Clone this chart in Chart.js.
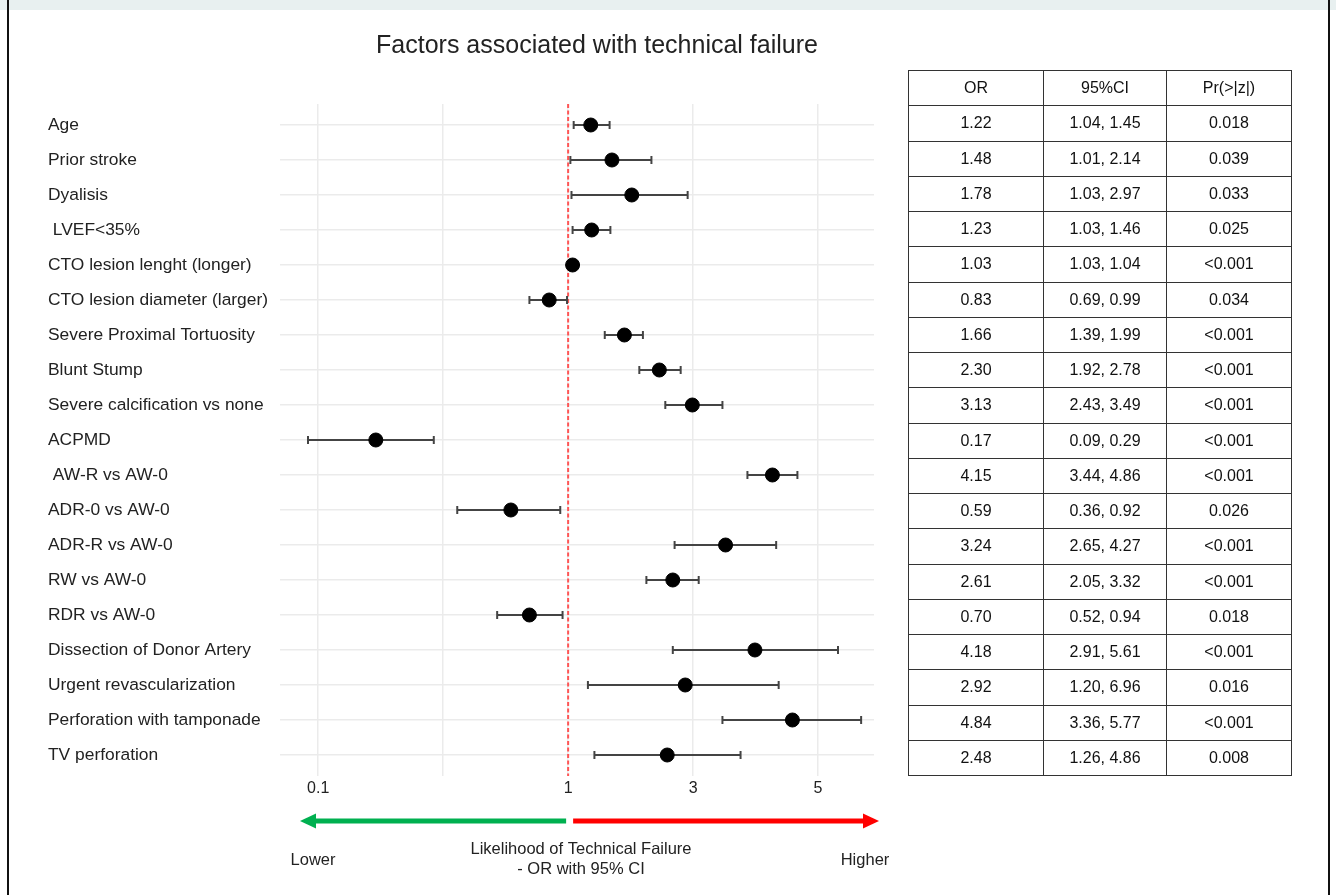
<!DOCTYPE html>
<html>
<head>
<meta charset="utf-8">
<script src="https://cdn.jsdelivr.net/npm/chart.js@4.4.1/dist/chart.umd.min.js"></script>
<style>
  body { margin: 0; background: #fff; }
  #wrap { position: relative; width: 1336px; height: 895px; overflow: hidden; }
  #band { position: absolute; left: 0; top: 0; width: 1336px; height: 10px; background: #e8f0f0; }
  .frame { position: absolute; top: 0; width: 2px; height: 895px; background: #111; }
  #forest { position: absolute; left: 0; top: 0; }
  #stats {
    position: absolute; left: 908px; top: 70px; width: 383px;
    border-collapse: collapse; table-layout: fixed;
    font-family: "Liberation Sans", Arial, sans-serif; font-size: 16px; color: #111;
    text-align: center;
  }
  #stats td { border: 1px solid #333; padding: 0; }
  #stats tr { height: 35.25px; }
</style>
</head>
<body>
<div id="wrap">
  <div id="band"></div>
  <div class="frame" style="left:7px"></div>
  <div class="frame" style="left:1328px"></div>
  <canvas id="forest" width="1336" height="895"></canvas>
  <table id="stats">
    <colgroup><col style="width:135px"><col style="width:123px"><col style="width:125px"></colgroup>
    <tbody id="statsBody"></tbody>
  </table>
</div>
<script>
const factors = [
  "Age", "Prior stroke", "Dyalisis", " LVEF<35%", "CTO lesion lenght (longer)",
  "CTO lesion diameter (larger)", "Severe Proximal Tortuosity", "Blunt Stump",
  "Severe calcification vs none", "ACPMD", " AW-R vs AW-0", "ADR-0 vs AW-0",
  "ADR-R vs AW-0", "RW vs AW-0", "RDR vs AW-0", "Dissection of Donor Artery",
  "Urgent revascularization", "Perforation with tamponade", "TV perforation"
];

// plotted odds ratios and CI ends
const plotOR = [1.22, 1.47, 1.75, 1.23, 1.04, 0.84, 1.64, 2.23, 2.98, 0.17,
  4.27, 0.59, 3.52, 2.51, 0.70, 3.99, 2.80, 4.59, 2.39];
const plotLow = [1.05, 1.02, 1.03, 1.04, 1.02, 0.70, 1.38, 1.87, 2.35, 0.091,
  3.87, 0.36, 2.55, 1.99, 0.52, 2.51, 1.19, 3.47, 1.26];
const plotHigh = [1.44, 2.08, 2.86, 1.45, 1.06, 0.99, 1.93, 2.69, 3.47, 0.29,
  4.67, 0.93, 4.33, 3.09, 0.95, 5.32, 4.37, 5.69, 3.76];

// table columns
const tableOR = ["1.22", "1.48", "1.78", "1.23", "1.03", "0.83", "1.66", "2.30", "3.13", "0.17",
  "4.15", "0.59", "3.24", "2.61", "0.70", "4.18", "2.92", "4.84", "2.48"];
const tableCI = ["1.04, 1.45", "1.01, 2.14", "1.03, 2.97", "1.03, 1.46", "1.03, 1.04",
  "0.69, 0.99", "1.39, 1.99", "1.92, 2.78", "2.43, 3.49", "0.09, 0.29", "3.44, 4.86",
  "0.36, 0.92", "2.65, 4.27", "2.05, 3.32", "0.52, 0.94", "2.91, 5.61", "1.20, 6.96",
  "3.36, 5.77", "1.26, 4.86"];
const tableP = ["0.018", "0.039", "0.033", "0.025", "<0.001", "0.034", "<0.001", "<0.001",
  "<0.001", "<0.001", "<0.001", "0.026", "<0.001", "<0.001", "0.018", "<0.001", "0.016",
  "<0.001", "0.008"];
const tableHeader = ["OR", "95%CI", "Pr(>|z|)"];

const xTickValues = [0.1, 0.316, 1, 3, 5];
const xTickLabels = ["0.1", "", "1", "3", "5"];

const FONT = "'Liberation Sans', Arial, sans-serif";

// the plot's odd axis: log below 3, evenly spaced 3 -> 5
function toAxis(v) {
  if (v <= 1) return 2 * Math.log10(v);
  if (v <= 3) return Math.log(v) / Math.log(3);
  return 1 + (v - 3) / 2;
}

// fill the table
let body = document.getElementById("statsBody");
let rows = [tableHeader].concat(factors.map((f, i) => [tableOR[i], tableCI[i], tableP[i]]));
rows.forEach((r) => {
  let tr = document.createElement("tr");
  r.forEach((cell) => {
    let td = document.createElement("td");
    td.textContent = cell;
    tr.append(td);
  });
  body.append(tr);
});

let datasets = [];

datasets.push({
  label: "OR",
  data: plotOR.map((v, i) => ({ x: toAxis(v), y: i + 1 })),
  pointStyle: "circle",
  pointRadius: 7,
  pointBackgroundColor: "#000",
  pointBorderColor: "#000",
  pointBorderWidth: 1,
});

factors.forEach((f, i) => {
  datasets.push({
    label: f,
    data: [
      { x: toAxis(plotLow[i]), y: i + 1 },
      { x: toAxis(plotHigh[i]), y: i + 1 },
    ],
    showLine: true,
    borderColor: "#444",
    borderWidth: 2,
    pointStyle: "line",
    pointRotation: 90,
    pointRadius: 4,
    pointBorderColor: "#444",
    pointBorderWidth: 2,
  });
});

// reference line at OR = 1
datasets.push({
  label: "ref",
  data: [{ x: toAxis(1), y: 0.4 }, { x: toAxis(1), y: 19.6 }],
  showLine: true,
  borderColor: "#ff5555",
  borderWidth: 2,
  borderDash: [4, 2.5],
  pointRadius: 0,
});

const extras = {
  id: "extras",
  afterDraw(chart) {
    const ctx = chart.ctx;
    const area = chart.chartArea;
    const x1 = chart.scales.x.getPixelForValue(toAxis(1));
    ctx.save();
    ctx.fillStyle = "#222";
    ctx.textAlign = "center";
    ctx.textBaseline = "middle";
    ctx.font = "25px " + FONT;
    ctx.fillText("Factors associated with technical failure", 597, 46);

    // arrows
    const ay = 821;
    ctx.lineWidth = 5;
    ctx.strokeStyle = "#00b050";
    ctx.fillStyle = "#00b050";
    let leftTip = area.left + 20;
    ctx.beginPath();
    ctx.moveTo(x1 - 2, ay);
    ctx.lineTo(leftTip + 12, ay);
    ctx.stroke();
    ctx.beginPath();
    ctx.moveTo(leftTip, ay);
    ctx.lineTo(leftTip + 16, ay - 7.5);
    ctx.lineTo(leftTip + 16, ay + 7.5);
    ctx.closePath();
    ctx.fill();

    ctx.strokeStyle = "#ff0000";
    ctx.fillStyle = "#ff0000";
    let rightTip = area.right + 5;
    ctx.beginPath();
    ctx.moveTo(x1 + 5, ay);
    ctx.lineTo(rightTip - 12, ay);
    ctx.stroke();
    ctx.beginPath();
    ctx.moveTo(rightTip, ay);
    ctx.lineTo(rightTip - 16, ay - 7.5);
    ctx.lineTo(rightTip - 16, ay + 7.5);
    ctx.closePath();
    ctx.fill();

    ctx.fillStyle = "#222";
    ctx.font = "16.5px " + FONT;
    ctx.fillText("Lower", 313, 860);
    ctx.fillText("Higher", 865, 860);
    ctx.fillText("Likelihood of Technical Failure", 581, 849);
    ctx.fillText("- OR with 95% CI", 581, 869);
    ctx.restore();
  },
};

let forest = new Chart("forest", {
  type: "scatter",
  data: { datasets: datasets },
  options: {
    responsive: false,
    animation: false,
    layout: { padding: { left: 48, right: 462, top: 104, bottom: 94 } },
    plugins: { legend: { display: false }, tooltip: { enabled: false } },
    scales: {
      x: {
        type: "linear",
        min: -2.306,
        max: 2.448,
        afterBuildTicks: (scale) => {
          scale.ticks = xTickValues.map((v) => ({ value: toAxis(v) }));
        },
        afterFit: (scale) => { scale.height = 25; },
        border: { display: false },
        grid: { color: "#ebebeb", lineWidth: 1.5, drawTicks: false },
        ticks: {
          padding: 3,
          color: "#222",
          font: { family: FONT, size: 16 },
          callback: (v, i) => xTickLabels[i],
        },
      },
      y: {
        type: "linear",
        reverse: true,
        min: 0.4,
        max: 19.6,
        afterBuildTicks: (scale) => {
          scale.ticks = factors.map((f, i) => ({ value: i + 1 }));
        },
        afterFit: (scale) => { scale.width = 232; },
        border: { display: false },
        grid: { color: "#ebebeb", lineWidth: 1.5, drawTicks: false },
        ticks: {
          autoSkip: false,
          crossAlign: "far",
          padding: 10,
          color: "#222",
          font: { family: FONT, size: 17.4 },
          callback: (v, i) => factors[i],
        },
      },
    },
  },
  plugins: [extras],
});
</script>
</body>
</html>
